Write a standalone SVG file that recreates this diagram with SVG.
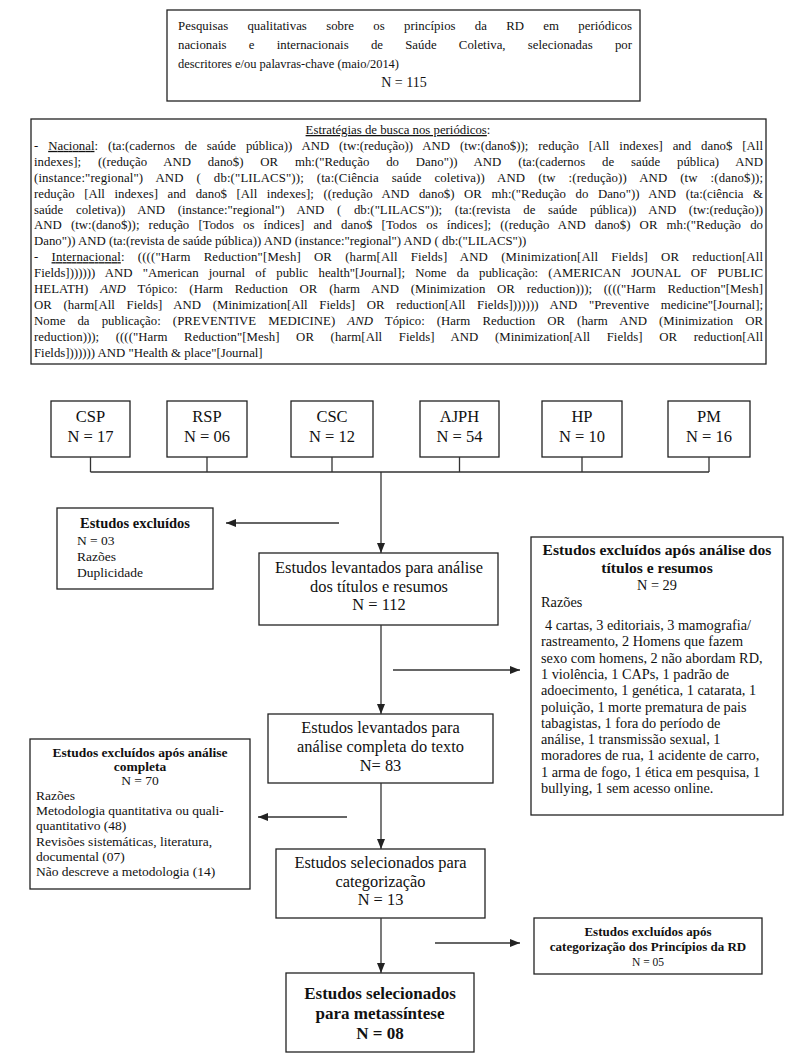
<svg xmlns="http://www.w3.org/2000/svg" width="797" height="1057" viewBox="0 0 797 1057" font-family="'Liberation Serif', 'Times New Roman', 'DejaVu Serif', serif">
<style>
.b{fill:#fff;stroke:#222;stroke-width:1.3}
.t{fill:#111}
.c{text-anchor:middle}
.bd{font-weight:bold}
.ln{stroke:#333;stroke-width:1.3;fill:none}
.ar{stroke:#333;stroke-width:1.3;fill:none;marker-end:url(#ah)}
.s{font-size:12.8px}
.r{font-size:14.3px}
.m{font-size:16.4px}
</style>
<defs>
<marker id="ah" markerWidth="10" markerHeight="8" refX="10" refY="4" orient="auto" markerUnits="userSpaceOnUse"><path d="M0,0 L10,4 L0,8 z" fill="#222"/></marker>
</defs>
<rect width="797" height="1057" fill="#fff"/>

<g id="top" font-family="Liberation Serif, serif">
<rect class="b" x="167" y="10" width="473" height="91"/>
<text class="t" font-size="12.8" x="178" y="30" word-spacing="16" textLength="454" lengthAdjust="spacing">Pesquisas qualitativas sobre os princípios da RD em periódicos</text>
<text class="t" font-size="12.8" x="178" y="49" word-spacing="19" textLength="454" lengthAdjust="spacing">nacionais e internacionais de Saúde Coletiva, selecionadas por</text>
<text class="t" font-size="12.8" x="178" y="68" textLength="221" lengthAdjust="spacingAndGlyphs">descritores e/ou palavras-chave (maio/2014)</text>
<text class="t c" font-size="14" x="404" y="87">N = 115</text>
</g>

<g id="strategies" class="t s" font-family="Liberation Serif, serif">
<rect class="b" x="31" y="119" width="735" height="245"/>
<text class="c" x="398" y="134"><tspan text-decoration="underline">Estratégias de busca nos periódicos</tspan>:</text>
<text x="34" y="149.9" word-spacing="6.7" textLength="729" lengthAdjust="spacing">- <tspan text-decoration="underline">Nacional</tspan>: (ta:(cadernos de saúde pública)) AND (tw:(redução)) AND (tw:(dano$)); redução [All indexes] and dano$ [All</text>
<text x="34" y="165.8" word-spacing="13.6" textLength="729" lengthAdjust="spacing">indexes]; ((redução AND dano$) OR mh:("Redução do Dano")) AND (ta:(cadernos de saúde pública) AND</text>
<text x="34" y="181.7" word-spacing="9.6" textLength="729" lengthAdjust="spacing">(instance:"regional") AND ( db:("LILACS")); (ta:(Ciência saúde coletiva)) AND (tw :(redução)) AND (tw :(dano$));</text>
<text x="34" y="197.6" word-spacing="6.4" textLength="729" lengthAdjust="spacing">redução [All indexes] and dano$ [All indexes]; ((redução AND dano$) OR mh:("Redução do Dano")) AND (ta:(ciência &amp;</text>
<text x="34" y="213.5" word-spacing="9.5" textLength="729" lengthAdjust="spacing">saúde coletiva)) AND (instance:"regional") AND ( db:("LILACS")); (ta:(revista de saúde pública)) AND (tw:(redução))</text>
<text x="34" y="229.4" word-spacing="5.9" textLength="729" lengthAdjust="spacing">AND (tw:(dano$)); redução [Todos os índices] and dano$ [Todos os índices]; ((redução AND dano$) OR mh:("Redução do</text>
<text x="34" y="245.3">Dano")) AND (ta:(revista de saúde pública)) AND (instance:"regional") AND ( db:("LILACS"))</text>
<text x="34" y="261.2" word-spacing="9.8" textLength="729" lengthAdjust="spacing">- <tspan text-decoration="underline">Internacional</tspan>: (((("Harm Reduction"[Mesh] OR (harm[All Fields] AND (Minimization[All Fields] OR reduction[All</text>
<text x="34" y="277.1" word-spacing="7" textLength="729" lengthAdjust="spacing">Fields])))))) AND "American journal of public health"[Journal]; Nome da publicação: (AMERICAN JOUNAL OF PUBLIC</text>
<text x="34" y="293" word-spacing="8.5" textLength="729" lengthAdjust="spacing">HELATH) <tspan font-style="italic">AND</tspan> Tópico: (Harm Reduction OR (harm AND (Minimization OR reduction))); (((("Harm Reduction"[Mesh]</text>
<text x="34" y="308.9" word-spacing="8.5" textLength="729" lengthAdjust="spacing">OR (harm[All Fields] AND (Minimization[All Fields] OR reduction[All Fields])))))) AND "Preventive medicine"[Journal];</text>
<text x="34" y="324.8" word-spacing="8.9" textLength="729" lengthAdjust="spacing">Nome da publicação: (PREVENTIVE MEDICINE) <tspan font-style="italic">AND</tspan> Tópico: (Harm Reduction OR (harm AND (Minimization OR</text>
<text x="34" y="340.7" word-spacing="13.4" textLength="729" lengthAdjust="spacing">reduction))); (((("Harm Reduction"[Mesh] OR (harm[All Fields] AND (Minimization[All Fields] OR reduction[All</text>
<text x="34" y="356.6">Fields])))))) AND "Health &amp; place"[Journal]</text>
</g>

<g id="csp" class="t c" font-size="16.5" font-family="Liberation Serif, serif"><rect class="b" x="51" y="401" width="79" height="56"/><text x="90.5" y="422">CSP</text><text x="90.5" y="442">N = 17</text></g>
<g id="rsp" class="t c" font-size="16.5" font-family="Liberation Serif, serif"><rect class="b" x="167" y="401" width="80" height="56"/><text x="207" y="422">RSP</text><text x="207" y="442">N = 06</text></g>
<g id="csc" class="t c" font-size="16.5" font-family="Liberation Serif, serif"><rect class="b" x="291" y="401" width="82" height="56"/><text x="332" y="422">CSC</text><text x="332" y="442">N = 12</text></g>
<g id="ajph" class="t c" font-size="16.5" font-family="Liberation Serif, serif"><rect class="b" x="420" y="401" width="79" height="56"/><text x="459.5" y="422">AJPH</text><text x="459.5" y="442">N = 54</text></g>
<g id="hp" class="t c" font-size="16.5" font-family="Liberation Serif, serif"><rect class="b" x="542" y="401" width="80" height="56"/><text x="582" y="422">HP</text><text x="582" y="442">N = 10</text></g>
<g id="pm" class="t c" font-size="16.5" font-family="Liberation Serif, serif"><rect class="b" x="668" y="401" width="82" height="56"/><text x="709" y="422">PM</text><text x="709" y="442">N = 16</text></g>

<g id="excl03" class="t" font-family="Liberation Serif, serif">
<rect class="b" x="57" y="508" width="156" height="81"/>
<text class="c bd" font-size="14.5" x="135" y="528">Estudos excluídos</text>
<text font-size="13.5" x="77" y="545">N = 03</text>
<text font-size="13.5" x="77" y="561">Razões</text>
<text font-size="13.5" x="77" y="577">Duplicidade</text>
</g>

<g id="n112" class="t c m" font-family="Liberation Serif, serif">
<rect class="b" x="259" y="553" width="239" height="72"/>
<text x="379" y="573">Estudos levantados para análise</text>
<text x="379" y="592">dos títulos e resumos</text>
<text x="379" y="610">N = 112</text>
</g>

<g id="excl29" class="t" font-family="Liberation Serif, serif">
<rect class="b" x="531" y="537" width="252" height="278"/>
<text class="c bd" font-size="15.6" x="657" y="555">Estudos excluídos após análise dos</text>
<text class="c bd" font-size="15.6" x="657" y="573">títulos e resumos</text>
<text class="c r" x="657" y="590">N = 29</text>
<text class="r" x="541" y="607">Razões</text>
<text class="r" x="545" y="630">4 cartas, 3 editoriais, 3 mamografia/</text>
<text class="r" x="541" y="646.3">rastreamento, 2 Homens que fazem</text>
<text class="r" x="541" y="662.6">sexo com homens, 2 não abordam RD,</text>
<text class="r" x="541" y="678.9">1 violência, 1 CAPs, 1 padrão de</text>
<text class="r" x="541" y="695.2">adoecimento, 1 genética, 1 catarata, 1</text>
<text class="r" x="541" y="711.5">poluição, 1 morte prematura de pais</text>
<text class="r" x="541" y="727.8">tabagistas, 1 fora do período de</text>
<text class="r" x="541" y="744.1">análise, 1 transmissão sexual, 1</text>
<text class="r" x="541" y="760.4">moradores de rua, 1 acidente de carro,</text>
<text class="r" x="541" y="776.7">1 arma de fogo, 1 ética em pesquisa, 1</text>
<text class="r" x="541" y="793">bullying, 1 sem acesso online.</text>
</g>

<g id="n83" class="t c m" font-family="Liberation Serif, serif">
<rect class="b" x="268" y="714" width="225" height="69"/>
<text x="380.5" y="733">Estudos levantados para</text>
<text x="380.5" y="752">análise completa do texto</text>
<text x="380.5" y="771">N= 83</text>
</g>

<g id="excl70" class="t" font-size="13.5" font-family="Liberation Serif, serif">
<rect class="b" x="30" y="739" width="220" height="150"/>
<text class="c bd" x="140" y="757">Estudos excluídos após análise</text>
<text class="c bd" x="140" y="771">completa</text>
<text class="c" x="140" y="785">N = 70</text>
<text x="36" y="800">Razões</text>
<text x="36" y="815">Metodologia quantitativa ou quali-</text>
<text x="36" y="830">quantitativo (48)</text>
<text x="36" y="846">Revisões sistemáticas, literatura,</text>
<text x="36" y="861">documental (07)</text>
<text x="36" y="876">Não descreve a metodologia (14)</text>
</g>

<g id="n13" class="t c m" font-family="Liberation Serif, serif">
<rect class="b" x="276" y="849" width="209" height="69"/>
<text x="380.5" y="868">Estudos selecionados para</text>
<text x="380.5" y="887">categorização</text>
<text x="380.5" y="905">N = 13</text>
</g>

<g id="excl05" class="t c" font-family="Liberation Serif, serif">
<rect class="b" x="534" y="918" width="228" height="56"/>
<text class="bd" font-size="13" x="648" y="936">Estudos excluídos após</text>
<text class="bd" font-size="13" x="648" y="951">categorização dos Princípios da RD</text>
<text font-size="11.5" x="648" y="966">N = 05</text>
</g>

<g id="n08" class="t c bd" font-size="17" font-family="Liberation Serif, serif">
<rect class="b" x="286" y="973" width="188" height="79"/>
<text x="380" y="999">Estudos selecionados</text>
<text x="380" y="1019">para metassíntese</text>
<text x="380" y="1039">N = 08</text>
</g>

<g id="connectors">
<path class="ln" d="M90.5,457 V472 M207,457 V472 M332,457 V472 M459.5,457 V472 M582,457 V472 M709,457 V472 M90.5,472 H709"/>
<line class="ar" x1="381" y1="472" x2="381" y2="553"/>
<line class="ar" x1="339" y1="523" x2="226" y2="523"/>
<line class="ar" x1="381" y1="625" x2="381" y2="714"/>
<line class="ar" x1="393" y1="670" x2="520" y2="670"/>
<line class="ar" x1="381" y1="783" x2="381" y2="849"/>
<line class="ar" x1="347" y1="817" x2="258" y2="817"/>
<line class="ar" x1="381" y1="918" x2="381" y2="973"/>
<line class="ar" x1="435" y1="943" x2="520" y2="943"/>
</g>
</svg>
